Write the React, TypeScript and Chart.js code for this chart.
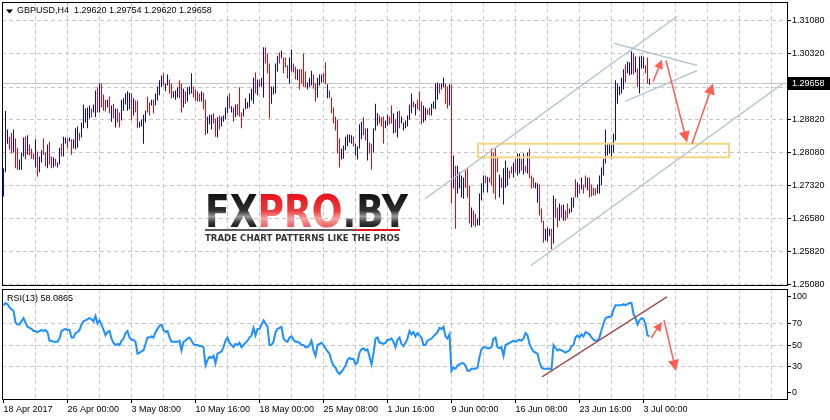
import React, { useEffect, useRef } from 'react';
import { Chart, registerables } from 'chart.js';

Chart.register(...registerables);

// ---------------- DATA ----------------
const symbolLabel = 'GBPUSD,H4';
const lastOHLC = [1.2962, 1.29754, 1.2962, 1.29658];

const highs = [
  1.2772, 1.2903, 1.2860, 1.2844, 1.2853, 1.2860, 1.2840, 1.2819, 1.2792, 1.2808,
  1.2842, 1.2844, 1.2847, 1.2826, 1.2817, 1.2806, 1.2838, 1.2810, 1.2799, 1.2813,
  1.2840, 1.2808, 1.2826, 1.2833, 1.2799, 1.2797, 1.2794, 1.2785, 1.2819, 1.2828,
  1.2844, 1.2842, 1.2840, 1.2842, 1.2838, 1.2838, 1.2863, 1.2867, 1.2853, 1.2876,
  1.2917, 1.2908, 1.2910, 1.2915, 1.2908, 1.2917, 1.2949, 1.2956, 1.2965, 1.2965,
  1.2940, 1.2928, 1.2928, 1.2935, 1.2915, 1.2919, 1.2908, 1.2908, 1.2899, 1.2928,
  1.2931, 1.2942, 1.2947, 1.2944, 1.2942, 1.2931, 1.2926, 1.2926, 1.2878, 1.2883,
  1.2894, 1.2903, 1.2935, 1.2922, 1.2928, 1.2928, 1.2942, 1.2958, 1.2972, 1.2983,
  1.2988, 1.2965, 1.2985, 1.2974, 1.2965, 1.2947, 1.2949, 1.2956, 1.2972, 1.2965,
  1.2953, 1.2947, 1.2956, 1.2958, 1.2988, 1.2958, 1.2951, 1.2947, 1.2942, 1.2947,
  1.2944, 1.2928, 1.2890, 1.2894, 1.2894, 1.2897, 1.2885, 1.2888, 1.2892, 1.2890,
  1.2892, 1.2910, 1.2935, 1.2942, 1.2913, 1.2910, 1.2917, 1.2919, 1.2956, 1.2899,
  1.2908, 1.2931, 1.2922, 1.2942, 1.2953, 1.2978, 1.2990, 1.2974, 1.2974, 1.2978,
  1.3047, 1.3047, 1.3033, 1.3010, 1.2958, 1.2958, 1.3010, 1.3028, 1.3035, 1.3040,
  1.3024, 1.3024, 1.3006, 1.3024, 1.3042, 1.3010, 1.3003, 1.2997, 1.2997, 1.2997,
  1.3033, 1.2992, 1.2967, 1.2978, 1.2994, 1.2985, 1.2965, 1.2978, 1.2985, 1.2985,
  1.2988, 1.3013, 1.2963, 1.2949, 1.2933, 1.2910, 1.2890, 1.2883, 1.2840, 1.2817,
  1.2824, 1.2844, 1.2849, 1.2849, 1.2847, 1.2844, 1.2828, 1.2822, 1.2872, 1.2878,
  1.2888, 1.2863, 1.2863, 1.2831, 1.2828, 1.2863, 1.2919, 1.2897, 1.2892, 1.2888,
  1.2890, 1.2881, 1.2894, 1.2890, 1.2915, 1.2897, 1.2883, 1.2901, 1.2903, 1.2890,
  1.2876, 1.2881, 1.2892, 1.2917, 1.2942, 1.2924, 1.2919, 1.2928, 1.2947, 1.2924,
  1.2915, 1.2910, 1.2906, 1.2910, 1.2919, 1.2924, 1.2965, 1.2967, 1.2965, 1.2965,
  1.2978, 1.2965, 1.2958, 1.2963, 1.2963, 1.2801, 1.2778, 1.2778, 1.2763, 1.2756,
  1.2751, 1.2767, 1.2772, 1.2733, 1.2683, 1.2676, 1.2669, 1.2658, 1.2715, 1.2738,
  1.2756, 1.2756, 1.2753, 1.2751, 1.2817, 1.2808, 1.2817, 1.2797, 1.2758, 1.2751,
  1.2772, 1.2790, 1.2774, 1.2767, 1.2776, 1.2785, 1.2794, 1.2806, 1.2806, 1.2794,
  1.2806, 1.2778, 1.2808, 1.2817, 1.2756, 1.2751, 1.2740, 1.2738, 1.2735, 1.2681,
  1.2653, 1.2635, 1.2638, 1.2635, 1.2635, 1.2710, 1.2703, 1.2683, 1.2692, 1.2688,
  1.2690, 1.2676, 1.2692, 1.2681, 1.2706, 1.2706, 1.2747, 1.2740, 1.2735, 1.2751,
  1.2735, 1.2756, 1.2751, 1.2751, 1.2735, 1.2728, 1.2726, 1.2735, 1.2756, 1.2774,
  1.2794, 1.2860, 1.2828, 1.2828, 1.2831, 1.2851, 1.2972, 1.2965, 1.2958, 1.2978,
  1.2997, 1.3008, 1.3015, 1.3013, 1.3038, 1.3033, 1.3026, 1.2999, 1.3026, 1.3028,
  1.3026, 1.3006, 1.3024, 1.29754,
];

const lows = [
  1.2708, 1.2763, 1.2828, 1.2815, 1.2806, 1.2808, 1.2772, 1.2769, 1.2769, 1.2769,
  1.2799, 1.2792, 1.2803, 1.2801, 1.2794, 1.2792, 1.2774, 1.2753, 1.2763, 1.2785,
  1.2803, 1.2776, 1.2772, 1.2781, 1.2772, 1.2774, 1.2778, 1.2774, 1.2781, 1.2799,
  1.2799, 1.2828, 1.2817, 1.2833, 1.2803, 1.2817, 1.2815, 1.2819, 1.2835, 1.2842,
  1.2863, 1.2876, 1.2863, 1.2885, 1.2888, 1.2899, 1.2888, 1.2899, 1.2899, 1.2910,
  1.2903, 1.2901, 1.2910, 1.2897, 1.2878, 1.2885, 1.2865, 1.2876, 1.2865, 1.2881,
  1.2903, 1.2917, 1.2903, 1.2906, 1.2881, 1.2892, 1.2899, 1.2863, 1.2865, 1.2867,
  1.2828, 1.2876, 1.2899, 1.2892, 1.2915, 1.2897, 1.2915, 1.2926, 1.2938, 1.2956,
  1.2960, 1.2947, 1.2960, 1.2942, 1.2931, 1.2933, 1.2928, 1.2933, 1.2931, 1.2899,
  1.2910, 1.2919, 1.2924, 1.2940, 1.2942, 1.2933, 1.2926, 1.2924, 1.2924, 1.2924,
  1.2906, 1.2847, 1.2851, 1.2872, 1.2860, 1.2874, 1.2844, 1.2842, 1.2860, 1.2867,
  1.2878, 1.2883, 1.2897, 1.2908, 1.2899, 1.2878, 1.2888, 1.2892, 1.2890, 1.2863,
  1.2890, 1.2906, 1.2908, 1.2910, 1.2926, 1.2919, 1.2942, 1.2938, 1.2956, 1.2958,
  1.2933, 1.3010, 1.2988, 1.2885, 1.2919, 1.2940, 1.2942, 1.2992, 1.3010, 1.3022,
  1.2988, 1.3001, 1.2976, 1.2965, 1.2992, 1.2990, 1.2974, 1.2972, 1.2951, 1.2965,
  1.2958, 1.2956, 1.2951, 1.2956, 1.2960, 1.2953, 1.2924, 1.2933, 1.2960, 1.2967,
  1.2967, 1.2963, 1.2931, 1.2931, 1.2897, 1.2874, 1.2858, 1.2806, 1.2774, 1.2792,
  1.2794, 1.2813, 1.2822, 1.2831, 1.2828, 1.2822, 1.2801, 1.2792, 1.2817, 1.2838,
  1.2847, 1.2835, 1.2790, 1.2806, 1.2769, 1.2808, 1.2858, 1.2869, 1.2874, 1.2867,
  1.2828, 1.2863, 1.2869, 1.2872, 1.2874, 1.2851, 1.2853, 1.2842, 1.2863, 1.2874,
  1.2858, 1.2863, 1.2867, 1.2883, 1.2897, 1.2910, 1.2892, 1.2906, 1.2903, 1.2872,
  1.2876, 1.2881, 1.2894, 1.2892, 1.2892, 1.2908, 1.2906, 1.2928, 1.2942, 1.2951,
  1.2956, 1.2919, 1.2908, 1.2915, 1.2692, 1.2726, 1.2635, 1.2715, 1.2726, 1.2706,
  1.2703, 1.2728, 1.2706, 1.2647, 1.2638, 1.2642, 1.2638, 1.2642, 1.2642, 1.2699,
  1.2717, 1.2738, 1.2717, 1.2740, 1.2733, 1.2715, 1.2701, 1.2763, 1.2706, 1.2728,
  1.2690, 1.2728, 1.2733, 1.2749, 1.2760, 1.2751, 1.2763, 1.2756, 1.2760, 1.2767,
  1.2758, 1.2763, 1.2760, 1.2749, 1.2726, 1.2728, 1.2726, 1.2694, 1.2665, 1.2649,
  1.2603, 1.2608, 1.2606, 1.2619, 1.2588, 1.2601, 1.2660, 1.2638, 1.2653, 1.2660,
  1.2653, 1.2653, 1.2658, 1.2669, 1.2672, 1.2683, 1.2706, 1.2706, 1.2715, 1.2724,
  1.2715, 1.2728, 1.2722, 1.2706, 1.2708, 1.2710, 1.2710, 1.2715, 1.2715, 1.2733,
  1.2756, 1.2783, 1.2801, 1.2806, 1.2794, 1.2808, 1.2835, 1.2919, 1.2938, 1.2942,
  1.2951, 1.2967, 1.2988, 1.2983, 1.2985, 1.2985, 1.2990, 1.2956, 1.2942, 1.2999,
  1.2999, 1.2988, 1.2965, 1.2962,
];

// U = bull bar (blue), D = bear bar (red)
const barDirs = [
  'UUUDDUDDUU', 'UDUDDDUDUU', 'DDUDDUDUUD', 'UUDUDUUUDU', 'UUUUDUUDUD',
  'DDUDUDUDDU', 'UUUUDUDDUU', 'UUDDUDUUUU', 'DUUDDUUUDD', 'UDUUUDDDDU',
  'DDUUUDDUDU', 'UUUDUDUDDD', 'UUUUUUDUDU', 'UDDDUUUUDU', 'DDDUUDDUDD',
  'DDUUUDDUUU', 'DDUDDDDDDU', 'UUUUUDUUUU', 'DDUDDUUUDD', 'DUUDDUDUDU',
  'UUUUUDUDDD', 'UUDDUUUUDU', 'UDDUDUDUUU', 'UDDDUDDUUU', 'UDUDDDDDUD',
  'UUUDDUDUUD', 'UDUDDDUUDD', 'DUUUDUDDUD', 'UDDUUUDUDU', 'DDUDDDDUUU',
  'UUUUUUUUUU', 'UDUUUDUDUU', 'UDDU',
].join('');

const rsiPeriod = 13;
const rsiValues = [
  87, 89, 88, 85, 83, 82, 71, 69, 69, 72,
  75, 71, 67, 66, 65, 63, 63, 62, 63, 64,
  63, 64, 62, 54, 54, 53, 53, 53, 56, 63,
  64, 65, 64, 64, 57, 57, 61, 62, 64, 69,
  72, 73, 74, 75, 74, 72, 77, 70, 73, 69,
  64, 59, 62, 63, 56, 52, 50, 51, 50, 54,
  56, 61, 63, 57, 55, 55, 53, 42, 43, 44,
  45, 51, 57, 57, 58, 57, 62, 65, 68, 69,
  64, 62, 63, 57, 53, 53, 53, 53, 54, 45,
  53, 54, 56, 57, 54, 51, 50, 50, 49, 49,
  48, 31, 36, 39, 38, 40, 33, 42, 43, 44,
  48, 54, 57, 52, 50, 48, 51, 50, 52, 48,
  50, 52, 54, 57, 59, 66, 59, 65, 65, 69,
  73, 70, 67, 50, 50, 53, 62, 65, 66, 67,
  56, 54, 53, 57, 58, 55, 53, 53, 52, 50,
  50, 48, 48, 50, 54, 45, 40, 50, 51, 52,
  50, 47, 44, 42, 35, 31, 29, 25, 23, 25,
  28, 31, 36, 38, 37, 37, 32, 34, 43, 46,
  47, 45, 46, 39, 32, 42, 56, 57, 52, 52,
  51, 52, 55, 55, 56, 53, 48, 55, 57, 51,
  49, 52, 56, 63, 60, 62, 58, 61, 59, 57,
  50, 50, 54, 55, 56, 58, 60, 62, 66, 65,
  67, 58, 56, 60, 26, 29, 28, 31, 32, 33,
  33, 31, 26, 26, 28, 28, 28, 29, 39, 46,
  48, 48, 47, 47, 48, 56, 57, 48, 47, 48,
  40, 50, 51, 52, 53, 54, 53, 54, 55, 54,
  56, 61, 59, 51, 47, 44, 43, 42, 34, 29,
  28, 28, 28, 28, 27, 50, 47, 45, 46, 45,
  44, 43, 44, 45, 49, 50, 57, 59, 57, 60,
  58, 62, 61, 60, 57, 55, 54, 54, 57, 64,
  70, 75, 76, 76, 77, 83, 87, 87, 87, 87,
  88, 87, 88, 89, 89, 79, 75, 69, 73, 75,
  74, 69, 59, 58.0865,
];

const priceTicks = [1.2508, 1.2582, 1.2658, 1.2732, 1.2808, 1.2882, 1.2956, 1.3032, 1.3108];
const rsiLevels = [0, 30, 50, 70, 100];
const timeLabels = [
  '18 Apr 2017', '26 Apr 00:00', '3 May 08:00', '10 May 16:00', '18 May 00:00',
  '25 May 08:00', '1 Jun 16:00', '9 Jun 00:00', '16 Jun 08:00', '23 Jun 16:00', '3 Jul 00:00',
];
const barsPerGridLine = 16;
const gridLineCount = 25;

// Drawn objects, in data units: [barIndex1, value1, barIndex2, value2]
const channelLines = [
  [210.75, 1.2703, 336.75, 1.3117],
  [263.75, 1.2551, 389.75, 1.2965],
  [305.25, 1.3056, 346.75, 1.3006],
  [310.75, 1.2924, 346.75, 1.2994],
];
const supportZone = [237.25, 1.2828, 362.75, 1.2797];
const priceArrows = [
  [324.75, 1.2969, 329.25, 1.3019],
  [331.25, 1.3017, 341.75, 1.2831],
  [344.25, 1.2828, 354.75, 1.2965],
];
const rsiTrendLine = [269.25, 20.3, 331.75, 94.7];
const rsiArrows = [
  [323.75, 56.5, 329.25, 71.4],
  [330.25, 73.3, 336.25, 25.8],
];

// ---------------- STYLE ----------------
const UP = '#0000ff';
const DOWN = '#ff0000';
const GRID = '#c8c8c8';
const RSI_COLOR = '#1e90ff';
const CHANNEL = '#a8c0d0';
const ARROW = '#ff5e55';
const TREND = '#a0504c';
const ZONE = '#f8d585';
const BIDLINE = '#c4c4c4';
const FAMILY = '"Liberation Sans", Arial, sans-serif';
const FONT = { family: FAMILY, size: 9 };
const X_MIN = -0.75;
const X_MAX = 391.75;
const Y_MIN = 1.25069;
const Y_MAX = 1.315;
const RSI_MIN = -0.2;
const RSI_MAX = 102.1;
const TRANSPARENT = 'rgba(0,0,0,0)';

const gridValues = () => Array.from({ length: gridLineCount }, (_, k) => ({ value: k * barsPerGridLine }));

function drawArrow(ctx: CanvasRenderingContext2D, x1: number, y1: number, x2: number, y2: number, head: number) {
  const a = Math.atan2(y2 - y1, x2 - x1);
  const bx = x2 - head * Math.cos(a);
  const by = y2 - head * Math.sin(a);
  ctx.strokeStyle = ARROW;
  ctx.fillStyle = ARROW;
  ctx.lineWidth = 1.5;
  ctx.beginPath();
  ctx.moveTo(x1, y1);
  ctx.lineTo(bx, by);
  ctx.stroke();
  const w = head * 0.5;
  ctx.beginPath();
  ctx.moveTo(x2, y2);
  ctx.lineTo(bx + w * Math.sin(a), by - w * Math.cos(a));
  ctx.lineTo(bx - w * Math.sin(a), by + w * Math.cos(a));
  ctx.closePath();
  ctx.fill();
}

function drawLogo(ctx: CanvasRenderingContext2D) {
  const x0 = 205;
  const x1 = 408;
  const top = 194;
  const base = 227;
  ctx.save();
  ctx.font = `bold 45px "DejaVu Sans", sans-serif`;
  ctx.textBaseline = 'alphabetic';
  const parts: [string, string][] = [['FX', 'dark'], ['PRO', 'red'], ['.BY', 'dark']];
  const total = parts.reduce((s, [t]) => s + ctx.measureText(t).width, 0);
  ctx.translate(x0, 0);
  ctx.scale((x1 - x0) / total, 1);
  let x = 0;
  for (const [t, kind] of parts) {
    const g = ctx.createLinearGradient(0, top, 0, base);
    if (kind === 'red') {
      g.addColorStop(0, '#e8101a');
      g.addColorStop(0.5, '#ee3a3a');
      g.addColorStop(0.75, '#f7a3a3');
      g.addColorStop(1, '#f15a5a');
    } else {
      g.addColorStop(0, '#111111');
      g.addColorStop(0.5, '#303030');
      g.addColorStop(0.68, '#9a9a9a');
      g.addColorStop(0.85, '#3a3a3a');
      g.addColorStop(1, '#1c1c1c');
    }
    ctx.fillStyle = g;
    ctx.fillText(t, x, base);
    x += ctx.measureText(t).width;
  }
  ctx.restore();
  ctx.fillStyle = '#5a5a5a';
  ctx.fillRect(205, 229, 150, 2);
  ctx.fillStyle = '#e8141c';
  ctx.fillRect(355, 229, 45, 2);
  ctx.save();
  const tag = 'TRADE CHART PATTERNS LIKE THE PROS';
  ctx.font = `bold 8px "DejaVu Sans", sans-serif`;
  const tw = ctx.measureText(tag).width;
  ctx.translate(205, 0);
  ctx.scale(195 / tw, 1);
  ctx.fillStyle = '#333333';
  ctx.textBaseline = 'alphabetic';
  ctx.fillText(tag, 0, 241);
  ctx.restore();
}

const mainPlugin = {
  id: 'mainPanel',
  beforeDatasetsDraw(chart: any) {
    const { ctx, chartArea: a, scales } = chart;
    const y = Math.round(scales.y.getPixelForValue(lastOHLC[3])) + 0.5;
    ctx.save();
    ctx.strokeStyle = BIDLINE;
    ctx.lineWidth = 1;
    ctx.beginPath();
    ctx.moveTo(a.left, y);
    ctx.lineTo(a.right, y);
    ctx.stroke();
    ctx.restore();
  },
  afterDatasetsDraw(chart: any) {
    const { ctx, chartArea: a, scales } = chart;
    const X = (v: number) => scales.x.getPixelForValue(v);
    const Y = (v: number) => scales.y.getPixelForValue(v);
    ctx.save();
    ctx.beginPath();
    ctx.rect(a.left, a.top, a.right - a.left, a.bottom - a.top);
    ctx.clip();
    // zone
    ctx.strokeStyle = ZONE;
    ctx.lineWidth = 2;
    const [zx1, zy1, zx2, zy2] = supportZone;
    ctx.strokeRect(X(zx1), Y(zy1), X(zx2) - X(zx1), Y(zy2) - Y(zy1));
    // channel lines
    ctx.strokeStyle = CHANNEL;
    ctx.lineWidth = 1.2;
    for (const [ax, ay, bx, by] of channelLines) {
      ctx.beginPath();
      ctx.moveTo(X(ax), Y(ay));
      ctx.lineTo(X(bx), Y(by));
      ctx.stroke();
    }
    priceArrows.forEach(([ax, ay, bx, by], i) => drawArrow(ctx, X(ax), Y(ay), X(bx), Y(by), i === 0 ? 9 : 11));
    ctx.restore();
  },
  afterDraw(chart: any) {
    const { ctx, chartArea: a, scales } = chart;
    ctx.save();
    drawLogo(ctx);
    // frame
    ctx.strokeStyle = '#000';
    ctx.lineWidth = 1;
    ctx.strokeRect(a.left + 0.5, a.top + 0.5, a.right - a.left, a.bottom - a.top);
    // header
    ctx.fillStyle = '#000';
    ctx.beginPath();
    ctx.moveTo(6, 9.5);
    ctx.lineTo(13, 9.5);
    ctx.lineTo(9.5, 13.5);
    ctx.closePath();
    ctx.fill();
    ctx.font = `9px ${FAMILY}`;
    ctx.textBaseline = 'middle';
    ctx.textAlign = 'left';
    ctx.fillText(`${symbolLabel}  ${lastOHLC.map((v) => v.toFixed(5)).join(' ')}`, 17, 11);
    // bid label
    const y = Math.round(scales.y.getPixelForValue(lastOHLC[3]));
    ctx.fillStyle = '#000';
    ctx.fillRect(a.right + 1, y - 6, chart.width - a.right - 1, 13);
    ctx.fillStyle = '#fff';
    ctx.fillText(lastOHLC[3].toFixed(5), a.right + 5, y + 0.5);
    ctx.restore();
  },
};

const rsiPlugin = {
  id: 'rsiPanel',
  afterDatasetsDraw(chart: any) {
    const { ctx, scales } = chart;
    const X = (v: number) => scales.x.getPixelForValue(v);
    const Y = (v: number) => scales.y.getPixelForValue(v);
    ctx.save();
    ctx.strokeStyle = TREND;
    ctx.lineWidth = 1.5;
    const [ax, ay, bx, by] = rsiTrendLine;
    ctx.beginPath();
    ctx.moveTo(X(ax), Y(ay));
    ctx.lineTo(X(bx), Y(by));
    ctx.stroke();
    rsiArrows.forEach(([px, py, qx, qy], i) => drawArrow(ctx, X(px), Y(py), X(qx), Y(qy), i === 0 ? 9 : 11));
    ctx.restore();
  },
  afterDraw(chart: any) {
    const { ctx, chartArea: a } = chart;
    ctx.save();
    ctx.strokeStyle = '#000';
    ctx.lineWidth = 1;
    ctx.strokeRect(a.left + 0.5, a.top + 0.5, a.right - a.left, a.bottom - a.top);
    ctx.fillStyle = '#000';
    ctx.font = `9px ${FAMILY}`;
    ctx.textBaseline = 'middle';
    ctx.fillText(`RSI(${rsiPeriod}) ${rsiValues[rsiValues.length - 1].toFixed(4)}`, 7, 11);
    ctx.restore();
  },
};

export default function App() {
  const mainRef = useRef<HTMLCanvasElement>(null);
  const rsiRef = useRef<HTMLCanvasElement>(null);

  useEffect(() => {
    const main = new Chart(mainRef.current as HTMLCanvasElement, {
      type: 'bar',
      data: {
        datasets: [
          {
            data: highs.map((h, i) => ({ x: i, y: [lows[i], h] })) as any,
            backgroundColor: barDirs.split('').map((d) => (d === 'U' ? UP : DOWN)),
            barThickness: 1,
            borderWidth: 0,
            inflateAmount: 0,
          } as any,
        ],
      },
      options: {
        responsive: false,
        animation: false,
        devicePixelRatio: 1,
        events: [],
        layout: { padding: { left: 2, top: 2, right: 0, bottom: 3 } },
        plugins: { legend: { display: false }, tooltip: { enabled: false } },
        scales: {
          x: {
            type: 'linear',
            min: X_MIN,
            max: X_MAX,
            offset: false,
            bounds: 'data',
            grid: {
              offset: false,
              drawTicks: false,
              color: (c: any) => (c.index === 0 ? TRANSPARENT : GRID),
            },
            border: { display: false, dash: [4, 3] },
            ticks: { display: false },
            afterBuildTicks: (s: any) => { s.ticks = gridValues(); },
            afterFit: (s: any) => { s.height = 0; s.paddingLeft = 0; s.paddingRight = 0; },
          } as any,
          y: {
            type: 'linear',
            position: 'right',
            min: Y_MIN,
            max: Y_MAX,
            bounds: 'data',
            beginAtZero: false,
            grid: { color: GRID, tickColor: '#000', tickLength: 4 },
            border: { display: false, dash: [4, 3] },
            ticks: { font: FONT, color: '#000', padding: 1, autoSkip: false, callback: (v: any) => Number(v).toFixed(5) },
            afterBuildTicks: (s: any) => { s.ticks = priceTicks.map((v) => ({ value: v })); },
            afterFit: (s: any) => { s.width = 43; s.paddingTop = 0; s.paddingBottom = 0; },
          } as any,
        },
      },
      plugins: [mainPlugin],
    });

    const labelled = (i: number) => i % 2 === 0 && i / 2 < timeLabels.length;
    const rsi = new Chart(rsiRef.current as HTMLCanvasElement, {
      type: 'line',
      data: {
        datasets: [
          {
            data: rsiValues.map((v, i) => ({ x: i, y: v })),
            borderColor: RSI_COLOR,
            borderWidth: 2,
            pointRadius: 0,
            tension: 0,
            fill: false,
          },
        ],
      },
      options: {
        responsive: false,
        animation: false,
        devicePixelRatio: 1,
        events: [],
        layout: { padding: { left: 2, top: 1, right: 0, bottom: 0 } },
        plugins: { legend: { display: false }, tooltip: { enabled: false } },
        scales: {
          x: {
            type: 'linear',
            min: X_MIN,
            max: X_MAX,
            offset: false,
            bounds: 'data',
            grid: {
              offset: false,
              tickLength: 4,
              color: (c: any) => (c.index === 0 ? TRANSPARENT : GRID),
              tickColor: (c: any) => (labelled(c.index) ? '#000' : TRANSPARENT),
            },
            border: { display: false, dash: [4, 3] },
            ticks: {
              font: FONT,
              color: '#000',
              align: 'start',
              maxRotation: 0,
              autoSkip: false,
              padding: 1,
              callback: (_v: any, i: number) => (labelled(i) ? timeLabels[i / 2] : ''),
            },
            afterBuildTicks: (s: any) => { s.ticks = gridValues(); },
            afterFit: (s: any) => { s.height = 21; s.paddingLeft = 0; s.paddingRight = 0; },
          } as any,
          y: {
            type: 'linear',
            position: 'right',
            min: RSI_MIN,
            max: RSI_MAX,
            bounds: 'data',
            grid: {
              tickLength: 4,
              tickColor: '#000',
              color: (c: any) => (c.index === 0 || c.index === rsiLevels.length - 1 ? TRANSPARENT : GRID),
            },
            border: { display: false, dash: [4, 3] },
            ticks: {
              font: FONT,
              color: '#000',
              padding: 1,
              autoSkip: false,
              callback: (_v: any, i: number) => String(rsiLevels[i]),
            },
            afterBuildTicks: (s: any) => {
              // keep the 0 and 100 labels inside the panel, as the terminal does
              s.ticks = rsiLevels.map((v) => ({ value: Math.min(Math.max(v, RSI_MIN + 6.2), RSI_MAX - 7.2) }));
            },
            afterFit: (s: any) => { s.width = 43; s.paddingTop = 0; s.paddingBottom = 0; },
          } as any,
        },
      },
      plugins: [rsiPlugin],
    });

    return () => {
      main.destroy();
      rsi.destroy();
    };
  }, []);

  return (
    <div style={{ position: 'absolute', left: 0, top: 0, width: 830, height: 420, background: '#fff', overflow: 'hidden' }}>
      <canvas ref={mainRef} width={830} height={288} style={{ position: 'absolute', left: 0, top: 0, width: 830, height: 288 }} />
      <canvas ref={rsiRef} width={830} height={132} style={{ position: 'absolute', left: 0, top: 288, width: 830, height: 132 }} />
    </div>
  );
}
